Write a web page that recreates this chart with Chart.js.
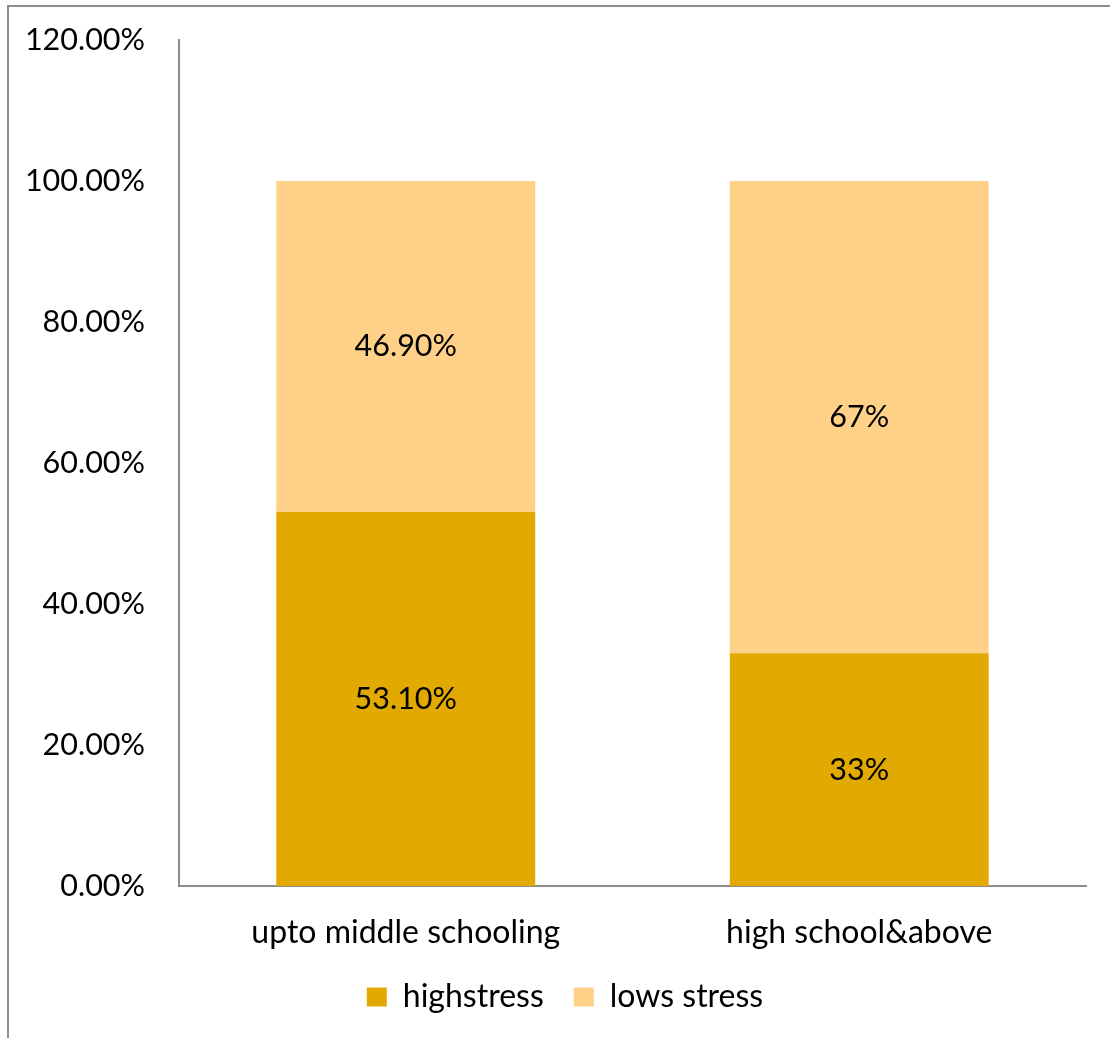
<!DOCTYPE html>
<html>
<head>
<meta charset="utf-8">
<script src="https://cdn.jsdelivr.net/npm/chart.js@4/dist/chart.umd.min.js"></script>
<style>
  html, body { margin: 0; padding: 0; background: #ffffff; }
  #wrap { position: relative; width: 1110px; height: 1038px; overflow: hidden; }
  #frame { position: absolute; left: 7px; top: 5px; width: 1200px; height: 1200px;
           border-left: 2px solid #8c8c8c; border-top: 2px solid #8c8c8c; }
  #c { position: absolute; left: 0; top: 0; }
</style>
</head>
<body>
<div id="wrap">
  <div id="frame"></div>
  <canvas id="c" width="1110" height="1038"></canvas>
</div>
<script>
const categories = ['upto middle schooling', 'high school&above'];
const highStress = [53.1, 33];
const lowStress = [46.9, 67];
const highStressLabels = ['53.10%', '33%'];
const lowStressLabels = ['46.90%', '67%'];
const seriesNames = ['highstress', 'lows stress'];
const yTicks = [0, 20, 40, 60, 80, 100, 120];

const FONT = 'Lato';

const barLabels = {
  id: 'barLabels',
  afterDatasetsDraw(chart) {
    const ctx = chart.ctx;
    ctx.save();
    ctx.font = '30.5px ' + FONT;
    ctx.fillStyle = '#000000';
    ctx.textAlign = 'center';
    ctx.textBaseline = 'middle';
    chart.data.datasets.forEach((ds, di) => {
      const meta = chart.getDatasetMeta(di);
      meta.data.forEach((el, i) => {
        const p = el.getProps(['x', 'y', 'base'], true);
        ctx.fillText(ds.valueLabels[i], p.x, (p.y + p.base) / 2);
      });
    });
    ctx.restore();
  }
};

const legendShift = {
  id: 'legendShift',
  afterLayout(chart) {
    if (chart.legend) { chart.legend.left += 22; chart.legend.right += 22; }
  }
};

new Chart(document.getElementById('c'), {
  type: 'bar',
  data: {
    labels: categories,
    datasets: [
      { label: seriesNames[0], data: highStress, valueLabels: highStressLabels,
        backgroundColor: '#E2AA00', barPercentage: 0.571, categoryPercentage: 1 },
      { label: seriesNames[1], data: lowStress, valueLabels: lowStressLabels,
        backgroundColor: '#FFD088', barPercentage: 0.571, categoryPercentage: 1 }
    ]
  },
  options: {
    responsive: false,
    animation: false,
    layout: { padding: { left: 0, right: 24, top: 40, bottom: 15 } },
    plugins: {
      legend: {
        position: 'bottom',
        labels: { font: { family: FONT, size: 32 }, color: '#000000',
                  boxWidth: 20, boxHeight: 19, padding: 30 }
      },
      tooltip: { enabled: false }
    },
    scales: {
      x: {
        stacked: true,
        afterFit(scale) { scale.height = 65; },
        grid: { display: false, drawTicks: false },
        border: { display: true, color: '#8c8c8c', width: 2 },
        ticks: { font: { family: FONT, size: 32 }, color: '#000000', padding: 27 }
      },
      y: {
        stacked: true,
        min: 0, max: 120,
        afterFit(scale) { scale.width = 179; scale.paddingTop = 0; scale.paddingBottom = 0; },
        afterBuildTicks(scale) { scale.ticks = yTicks.map(v => ({ value: v })); },
        grid: { display: false, drawTicks: false },
        border: { display: true, color: '#8c8c8c', width: 2 },
        ticks: { font: { family: FONT, size: 30.5 }, color: '#000000', padding: 34,
                 callback: v => v.toFixed(2) + '%' }
      }
    }
  },
  plugins: [barLabels, legendShift]
});
</script>
</body>
</html>
